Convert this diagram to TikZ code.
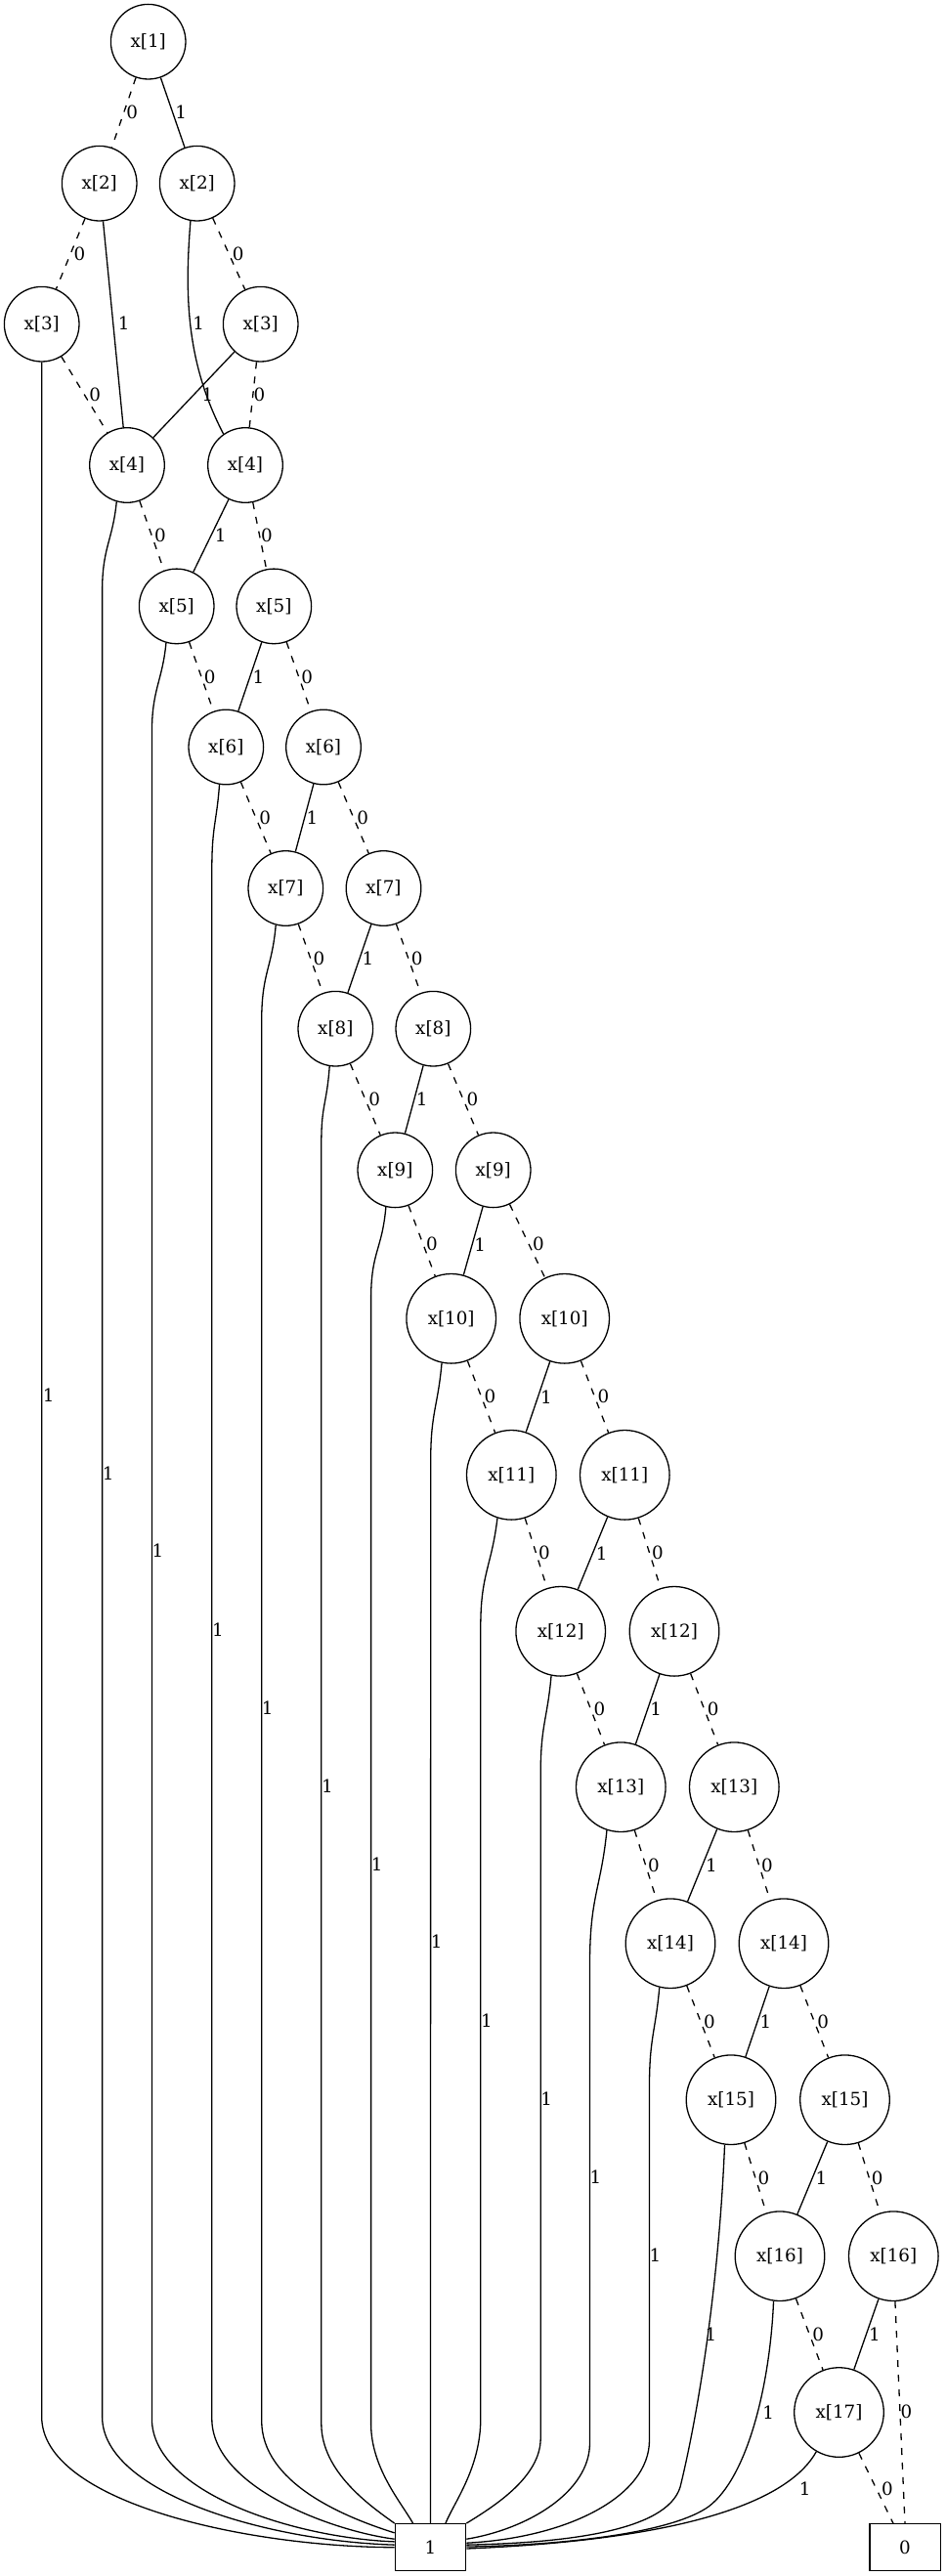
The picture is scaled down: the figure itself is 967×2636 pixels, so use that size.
\documentclass[tikz,border=0pt]{standalone}
\usepackage{fontspec}
\setmainfont{DejaVu Serif}
\usetikzlibrary{calc}
\newcommand{\elab}[3]{\path let \p1=(#1), \p2=(#2), \n1={abs(\x2-\x1)/abs(\y2-\y1)} in node[lab] at ($(\p1)!0.5!(\p2)+({9*\n1+5.5},0)$) {#3};}
\begin{document}
\begin{tikzpicture}[x=1pt,y=-1pt,
  every node/.style={font=\fontsize{18.3}{22}\selectfont},
  bdd/.style={draw, circle, line width=1.3pt, inner sep=0pt, minimum size=76.6pt},
  bddw/.style={bdd, minimum size=91.6pt},
  term/.style={draw, rectangle, line width=1.3pt, minimum width=72.3pt, minimum height=48pt, inner sep=0pt},
  hi/.style={line width=1.3pt},
  lo/.style={line width=1.3pt, dash pattern=on 7pt off 8pt},
  lab/.style={inner sep=0pt},
  labw/.style={inner sep=0pt, anchor=west}]
\useasboundingbox (0,0) rectangle (967,2636);
% nodes
\node[bdd] (a1) at (151.7,42.7) {x[1]};
\node[bdd] (a2) at (101.7,187.7) {x[2]};
\node[bdd] (b2) at (201.7,187.7) {x[2]};
\node[bdd] (a3) at (42.7,331.7) {x[3]};
\node[bdd] (b3) at (266.7,331.7) {x[3]};
\node[bdd] (a4) at (130,476) {x[4]};
\node[bdd] (b4) at (251,476) {x[4]};
\node[bdd] (a5) at (180.7,620.4) {x[5]};
\node[bdd] (b5) at (280.3,620.4) {x[5]};
\node[bdd] (a6) at (231.3,764.5) {x[6]};
\node[bdd] (b6) at (331,764.5) {x[6]};
\node[bdd] (a7) at (292.3,909) {x[7]};
\node[bdd] (b7) at (392.5,909) {x[7]};
\node[bdd] (a8) at (343.3,1052.7) {x[8]};
\node[bdd] (b8) at (443.3,1052.7) {x[8]};
\node[bdd] (a9) at (404.3,1197.3) {x[9]};
\node[bdd] (b9) at (504.7,1197.3) {x[9]};
\node[bddw] (a10) at (461.7,1349.3) {x[10]};
\node[bddw] (b10) at (577.7,1349.3) {x[10]};
\node[bddw] (a11) at (523.3,1509.3) {x[11]};
\node[bddw] (b11) at (639.3,1509.3) {x[11]};
\node[bddw] (a12) at (573.7,1669.3) {x[12]};
\node[bddw] (b12) at (690,1669.3) {x[12]};
\node[bddw] (a13) at (635.3,1828.7) {x[13]};
\node[bddw] (b13) at (751.3,1828.7) {x[13]};
\node[bddw] (a14) at (686,1988.7) {x[14]};
\node[bddw] (b14) at (802,1988.7) {x[14]};
\node[bddw] (a15) at (748,2148.7) {x[15]};
\node[bddw] (b15) at (864.5,2148.7) {x[15]};
\node[bddw] (a16) at (798,2308.7) {x[16]};
\node[bddw] (b16) at (914.3,2308.7) {x[16]};
\node[bddw] (a17) at (858.5,2468.5) {x[17]};
\node[term] (t1) at (440.5,2606.7) {1};
\node[term] (t0) at (926,2606.7) {0};
% top part
\draw[lo] (a1) -- (a2); \elab{a1}{a2}{0}
\draw[hi] (a1) -- (b2); \elab{a1}{b2}{1}
\draw[lo] (a2) -- (a3); \elab{a2}{a3}{0}
\draw[hi] (a2) -- (a4); \node[lab] at (126.7,331) {1};
\draw[lo] (b2) -- (b3); \elab{b2}{b3}{0}
\draw[hi] (b2.260) .. controls (189,300) and (190,370) .. (b4.125); \node[lab] at (203.3,331) {1};
\draw[lo] (a3) -- (a4); \elab{a3}{a4}{0}
\draw[hi] (b3) -- (a4); \elab{b3}{a4}{1}
\draw[lo] (b3) -- (b4); \elab{b3}{b4}{0}
% chain
\foreach \k in {4,...,15} {
  \pgfmathtruncatemacro\kk{\k+1}
  \draw[lo] (a\k) -- (a\kk); \elab{a\k}{a\kk}{0}
  \draw[hi] (b\k) -- (a\kk); \elab{b\k}{a\kk}{1}
  \draw[lo] (b\k) -- (b\kk); \elab{b\k}{b\kk}{0}
}
\draw[lo] (a16) -- (a17); \elab{a16}{a17}{0}
\draw[hi] (b16) -- (a17); \elab{b16}{a17}{1}
\draw[lo] (b16.272) -- (t0.north); \node[lab] at (927.4,2468) {0};
\draw[lo] (a17) -- (t0); \node[lab] at (907.9,2546.7) {0};
% long 1-edges to terminal 1
\draw[hi] (a3) -- (42.7,2473) .. controls (42.7,2560) and (250,2606) .. (t1.west);
\node[labw] at (43.6,1428) {1};
\draw[hi] (a4.254) .. controls +(-4,40) and +(0,-45) .. (104.6,605) -- (104.6,2473) .. controls (104.6,2550) and (270,2600) .. (t1.176);
\node[labw] at (104.6,1508) {1};
\draw[hi] (a5.254) .. controls +(-4,40) and +(0,-45) .. (155.4,750) -- (155.4,2475) .. controls (155.4,2550) and (300,2597) .. (t1.171);
\node[labw] at (155.4,1587) {1};
\draw[hi] (a6.260) .. controls +(-3,40) and +(0,-45) .. (216.8,890) -- (216.8,2475) .. controls (216.8,2545) and (340,2590) .. (t1.167);
\node[labw] at (216.8,1668) {1};
\draw[hi] (a7.255) .. controls +(-4,45) and +(0,-50) .. (267.7,1045) -- (267.7,2477) .. controls (267.7,2540) and (350,2575) .. (t1.158);
\node[labw] at (267.7,1748) {1};
\draw[hi] (a8.261) .. controls +(-3,40) and +(0,-40) .. (328.8,1170) -- (328.8,2480) .. controls (328.8,2530) and (380,2565) .. (t1.north west);
\node[labw] at (328.8,1828) {1};
\draw[hi] (a9.256) .. controls +(-4,45) and +(0,-50) .. (379.6,1330) -- (379.6,2480) .. controls (379.6,2525) and (410,2560) .. (t1.126);
\node[labw] at (379.6,1908) {1};
\draw[hi] (a10.258) .. controls +(-4,45) and +(0,-50) .. (440.7,1495) -- (t1.north);
\node[labw] at (440.7,1987) {1};
\draw[hi] (a11.252) .. controls +(-6,50) and +(0,-55) .. (491.8,1665) -- (491.8,2475) .. controls (491.8,2525) and (465,2560) .. (t1.58);
\node[labw] at (491.8,2068) {1};
\draw[hi] (a12.258) .. controls +(-4,45) and +(0,-50) .. (553.2,1815) -- (553.2,2495) .. controls (553.2,2535) and (505,2565) .. (t1.north east);
\node[labw] at (553.2,2148) {1};
\draw[hi] (a13.252) .. controls +(-6,60) and +(0,-70) .. (603.5,2010) -- (603.5,2500) .. controls (603.5,2550) and (540,2588) .. (t1.13);
\node[labw] at (603.5,2228) {1};
\draw[hi] (a14.256) .. controls +(-4,45) and +(0,-50) .. (664.5,2135) -- (664.5,2497) .. controls (664.5,2555) and (580,2597) .. (t1.7);
\node[labw] at (664.5,2308) {1};
\draw[hi] (a15.262) .. controls (735,2350) and (712,2480) .. (696,2545) .. controls (682,2590) and (580,2602) .. (t1.4);
\node[lab] at (727.4,2388.3) {1};
\draw[hi] (a16.262) .. controls (788,2440) and (765,2535) .. (725,2565) .. controls (690,2590) and (590,2604) .. (t1.1);
\node[lab] at (786.2,2468.3) {1};
\draw[hi] (a17.240) .. controls +(-25,45) and (720,2598) .. (t1.358);
\node[lab] at (823.6,2546.7) {1};
\end{tikzpicture}
\end{document}
